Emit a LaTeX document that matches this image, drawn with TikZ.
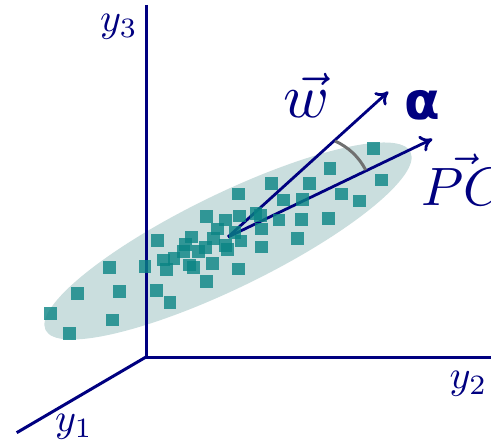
\documentclass[tikz,border=0pt]{standalone}
\usepackage{fontspec}
\newfontfamily\alphafont{DejaVu Sans}
\usetikzlibrary{arrows.meta}
\definecolor{axisblue}{RGB}{0,0,128}
\definecolor{ellfill}{RGB}{202,222,222}
\definecolor{sqcol}{RGB}{10,132,132}
\definecolor{arcgray}{RGB}{112,112,112}
\tikzset{
  axisline/.style={draw=axisblue,line width=3pt},
  vecarrow/.style={draw=axisblue,line width=2.8pt,-{Computer Modern Rightarrow[length=12pt,width=17pt]}},
  datasq/.style={fill=sqcol,fill opacity=0.8,minimum size=12.5pt,inner sep=0pt,draw=none},
  axislabel/.style={text=axisblue,inner sep=0pt},
}
\begin{document}
\begin{tikzpicture}[x=1pt,y=-1pt]
\useasboundingbox (0,0) rectangle (491,444);
% ellipse
\fill[ellfill,rotate around={26:(228,241)}] (228,241) ellipse [x radius=203pt, y radius=47pt];
% axes
\coordinate (O) at (146,357);
\coordinate (Y3) at (146,5);
\coordinate (Y2) at (492,357);
\coordinate (Y1) at (16.7,432.7);
\draw[axisline] (Y3) -- (O) -- (Y2);
\draw[axisline] (O) -- (Y1);
% vectors
\coordinate (C) at (228,237);
\coordinate (W) at (388.3,91.7);
\coordinate (P) at (432.3,139);
\draw[vecarrow] (C) -- (W);
\draw[vecarrow] (C) -- (P);
\coordinate (A1) at (335,141);
\coordinate (A2) at (365.7,170);
\draw[arcgray,line width=3pt] (A1) .. controls (348.5,147.2) and (358.8,156.8) .. (A2);
% data squares
\foreach \px/\py [count=\i] in {
271.7/183.3,238.3/194,206.7/216.7,225.5/220,239.3/216,256/213.5,260.5/215.5,217.3/229,235/232.3,261.5/229,279/220,
157.3/240.5,191.7/237,213.3/238.3,185.5/244.3,205.3/247.3,225.5/245.5,227.3/249.3,241/241,261.7/247,183.3/251.7,198.3/251.7,
174.2/258.3,163.3/260,166.3/269.3,189.3/265,193.3/267.3,212.5/263.3,238.3/269,145.2/266.3,206.5/281.7,156.5/290.3,170/302.5,
373.3/148.3,330/168.3,381.7/180,309.3/183.3,283.3/200,302.3/199.3,341.7/194,359.3/201,301.7/219.3,328.3/218.3,297.3/238.3,
109.3/267.3,77.5/293.3,119.3/291.5,50.7/313.3,112.5/320,69.3/333.3}
  \node[datasq] (s\i) at (\px,\py) {};
% labels
\node[axislabel] (l3) at (119,27) {\scalebox{4}{$y_3$}};
\node[axislabel] (l2) at (468.5,384) {\scalebox{4}{$y_2$}};
\node[axislabel] (l1) at (74,427) {\scalebox{4}{$y_1$}};
\node[axislabel] (lw) at (306.5,95) {\scalebox{6.2}{$\vec{w}$}};
\node[axislabel,font=\alphafont\bfseries\fontsize{52}{60}\selectfont] (la) at (422,105) {α};
\node[axislabel,anchor=base west] (lp) at (421,206) {\scalebox{5.4}{$\vec{PC}$}};
\end{tikzpicture}
\end{document}
